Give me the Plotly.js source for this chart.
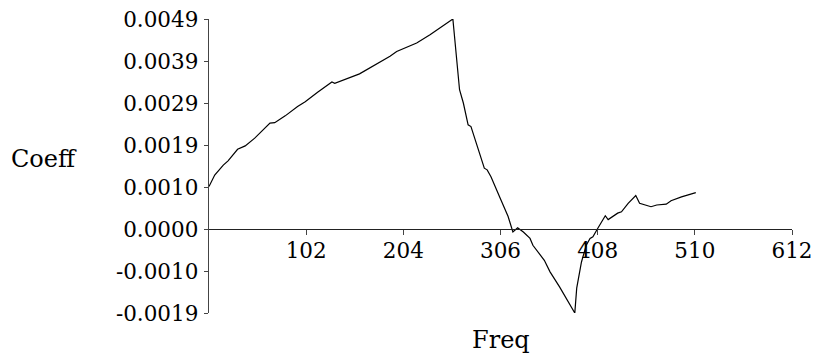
<!DOCTYPE html>
<html>
<head>
<meta charset="utf-8">
<script src="https://cdn.plot.ly/plotly-3.0.1.min.js"></script>
<style>html,body{margin:0;padding:0;background:#fff;}#chart{width:814px;height:357px;}</style>
</head>
<body>
<div id="chart"></div>
<script>
// Frequency values (x)
var freq = [0, 2, 6, 15, 20, 30, 38, 48, 55, 64, 69, 80, 93, 101, 114, 129, 132, 144, 158, 190, 197, 218, 232, 256,
  258, 260, 263, 267, 272, 275, 282, 289, 292, 296, 305, 314, 319, 324, 330, 337, 340, 352, 358, 368, 384,
  386, 391, 396, 400, 403, 408, 412, 416, 419, 424, 429, 433, 440, 448, 452, 464, 470, 480, 485, 496, 511];
// Coefficient values (y)
var coeff = [0.00099, 0.00107, 0.00126, 0.00149, 0.00159, 0.00186, 0.00194, 0.00212, 0.00227, 0.00247, 0.00248,
  0.00264, 0.00286, 0.00297, 0.00319, 0.00343, 0.00340, 0.00350, 0.00362, 0.00403, 0.00414, 0.00434, 0.00453, 0.00490,
  0.00442, 0.00379, 0.00325, 0.00294, 0.00243, 0.00239, 0.00192, 0.00142, 0.00138, 0.00122, 0.00075, 0.00029,
  -0.00007, 0.00003, -0.00007, -0.00022, -0.00038, -0.00073, -0.00100, -0.00135, -0.00196,
  -0.00138, -0.00077, -0.00038, -0.00022, -0.00018, 0.00001, 0.00017, 0.00031, 0.00022, 0.00029, 0.00037, 0.00040,
  0.00060, 0.00078, 0.00060, 0.00052, 0.00056, 0.00058, 0.00066, 0.00075, 0.00085];
// Axis ticks
var xTickVals = [102, 204, 306, 408, 510, 612];
var xTickText = ["102", "204", "306", "408", "510", "612"];
var yTickVals = [-0.00196, -0.00098, 0, 0.00098, 0.00196, 0.00294, 0.00392, 0.0049];
var yTickText = ["-0.0019", "-0.0010", "0.0000", "0.0010", "0.0019", "0.0029", "0.0039", "0.0049"];

var yMin = -0.00196, yMax = 0.0049;
var xPos = (0 - yMin) / (yMax - yMin);
var fam = "DejaVu Serif";
var tickFont = {family: fam, size: 21.5, color: "#000"};
var titleFont = {family: fam, size: 24, color: "#000"};

var traces = [{
  x: freq, y: coeff, type: "scatter", mode: "lines",
  line: {color: "#000", width: 1.2}, hoverinfo: "skip", cliponaxis: false
}];

var layout = {
  width: 814, height: 357,
  margin: {l: 209, r: 22, t: 19, b: 44},
  paper_bgcolor: "#fff", plot_bgcolor: "#fff",
  font: {family: fam},
  showlegend: false,
  xaxis: {
    range: [0, 612], anchor: "free", position: xPos,
    showline: true, linecolor: "#222", linewidth: 1.3,
    showgrid: false, zeroline: false,
    ticks: "outside", ticklen: 5, tickcolor: "#444", tickwidth: 1,
    tickvals: xTickVals, ticktext: xTickText, tickfont: tickFont,
    ticklabelstandoff: -3
  },
  xaxis2: {
    range: [0, 612], overlaying: "x", anchor: "free", position: xPos,
    showline: false, showgrid: false, zeroline: false,
    ticks: "inside", ticklen: 6, tickcolor: "#444", tickwidth: 1,
    tickvals: xTickVals, showticklabels: false
  },
  yaxis: {
    range: [yMin, yMax],
    showline: true, linecolor: "#444", linewidth: 1.3,
    showgrid: false, zeroline: false,
    ticks: "outside", ticklen: 4, tickcolor: "#444", tickwidth: 1,
    tickvals: yTickVals, ticktext: yTickText, tickfont: tickFont,
    ticklabelstandoff: 1
  },
  yaxis2: {
    range: [yMin, yMax], overlaying: "y", side: "left", anchor: "x",
    showline: false, showgrid: false, zeroline: false,
    ticks: "inside", ticklen: 4, tickcolor: "#444", tickwidth: 1,
    tickvals: yTickVals, showticklabels: false
  },
  annotations: [
    {text: "Freq", xref: "paper", yref: "paper", x: 0.5, y: -0.093, xanchor: "center", yanchor: "middle",
     showarrow: false, font: titleFont},
    {text: "Coeff", xref: "paper", yref: "paper", x: -0.343, y: 0.524, xanchor: "left", yanchor: "middle",
     showarrow: false, font: titleFont}
  ]
};

Plotly.newPlot("chart", traces, layout, {staticPlot: true, displayModeBar: false});
</script>
</body>
</html>
